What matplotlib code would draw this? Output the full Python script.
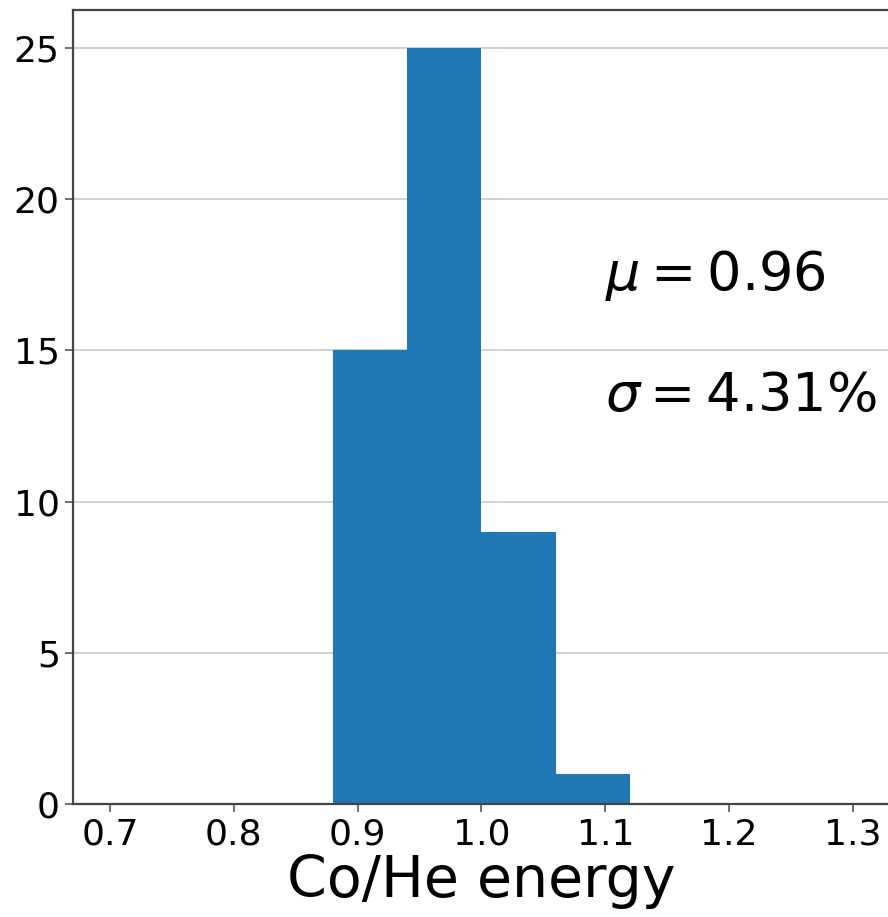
import matplotlib
matplotlib.use("Agg")
import matplotlib.pyplot as plt

# histogram data
bin_edges = [0.88, 0.94, 1.00, 1.06, 1.12]
counts = [15, 25, 9, 1]
mu_text = r'$\mu=0.96$'
sigma_text = r'$\sigma=4.31\%$'

fig = plt.figure(figsize=(8.88, 9.17), dpi=100)
ax = fig.add_axes([0.0822, 0.1228, 0.920, 0.8663])

ax.hist(bin_edges[:-1], bins=bin_edges, weights=counts, color='#1f77b4')

ax.set_xlim(0.67, 1.33)
ax.set_xticks([0.7, 0.8, 0.9, 1.0, 1.1, 1.2, 1.3])
ax.set_yticks([0, 5, 10, 15, 20, 25])
ax.tick_params(labelsize=26, length=6, width=1.2, color='#555555')
ax.set_xlabel('Co/He energy', fontsize=41, labelpad=2)

ax.set_axisbelow(True)
ax.yaxis.grid(True, color='#c4c4c4', linewidth=1.1)
for s in ax.spines.values():
    s.set_linewidth(1.6)
    s.set_color('#444444')

ax.text(1.1, 17, mu_text, fontsize=39)
ax.text(1.1, 13, sigma_text, fontsize=39)

fig.savefig('out.png', dpi=100)
